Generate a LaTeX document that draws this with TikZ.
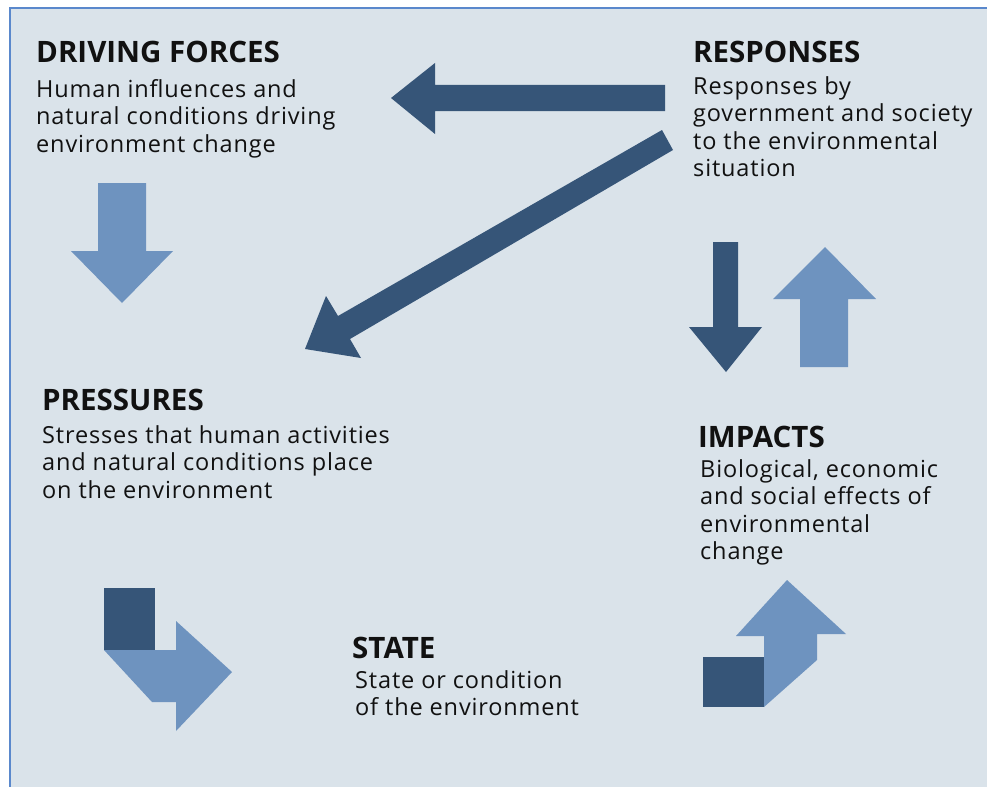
\documentclass[tikz,border=0pt]{standalone}
\usepackage{fontspec}
\setmainfont{Open Sans}
\newfontfamily\bodyfont{Open Sans}[LetterSpace=3.6]
\definecolor{bg}{HTML}{DAE3EA}
\definecolor{frameblue}{HTML}{5A88CC}
\definecolor{darkarrow}{HTML}{365578}
\definecolor{lightarrow}{HTML}{6E93BF}
\definecolor{txt}{HTML}{111111}
\newcommand{\firstline}{\rule{0pt}{20bp}}
\tikzset{
  headtext/.style={anchor=base west, inner sep=0pt, text=txt,
    font=\fontsize{29.5bp}{32bp}\selectfont\bfseries},
  bodytext/.style={anchor=north west, inner sep=0pt, align=left, text=txt,
    font=\bodyfont\fontsize{23.5bp}{27.5bp}\selectfont},
  darkfill/.style={fill=darkarrow},
  lightfill/.style={fill=lightarrow},
}
\begin{document}
\begin{tikzpicture}[x=1bp,y=-1bp]
\useasboundingbox (0,0) rectangle (987,787);
\fill[white] (0,0) rectangle (987,787);
\fill[bg] (10,8) rectangle (987,787);
\draw[frameblue, line width=1.8bp] (10,787) -- (10,8) -- (987,8);

% texts
\node[headtext] (dfh) at (36,63) {DRIVING FORCES};
\node[bodytext] (dfb) at (36,77) {\firstline Human influences and\\natural conditions driving\\environment change};

\node[headtext] (rsh) at (693,63) {RESPONSES};
\node[bodytext] (rsb) at (693,74) {\firstline Responses by\\government and society\\to the environmental\\situation};

\node[headtext] (prh) at (42,410) {PRESSURES};
\node[bodytext] (prb) at (42,423) {\firstline Stresses that human activities\\and natural conditions place\\on the environment};

\node[headtext] (imh) at (698,447) {IMPACTS};
\node[bodytext] (imb) at (700,457) {\firstline Biological, economic\\and social effects of\\environmental\\change};

\node[headtext] (sth) at (352,658) {STATE};
\node[bodytext] (stb) at (355,668) {\firstline State or condition\\of the environment};

% responses -> driving forces
\fill[darkfill] (665,85) -- (435,85) -- (435,63) -- (391,98) -- (435,134) -- (435,111) -- (665,111) -- cycle;
% responses -> pressures
\fill[darkfill] (662,130) -- (673,150) -- (350,339) -- (361,358) -- (305,349) -- (326,296) -- (338,316) -- cycle;
% driving forces -> pressures
\fill[lightfill] (98,183) -- (146,183) -- (146,251) -- (173,251) -- (122,303) -- (71,251) -- (98,251) -- cycle;
% responses -> impacts
\fill[darkfill] (713,242) -- (738,242) -- (738,327) -- (762,327) -- (726,372) -- (689,327) -- (713,327) -- cycle;
% impacts -> responses
\fill[lightfill] (800,367) -- (800,299) -- (773,299) -- (825,247) -- (876,299) -- (848,299) -- (848,367) -- cycle;
% pressures -> state
\fill[darkfill] (104,588) rectangle (155,650);
\fill[lightfill] (104,650) -- (176,650) -- (176,621) -- (232,672) -- (176,731) -- (176,702) -- (152,702) -- cycle;
% state -> impacts
\fill[darkfill] (703,657) rectangle (764,707);
\fill[lightfill] (764,707) -- (764,636) -- (736,636) -- (787,580) -- (846,634) -- (817,634) -- (817,660) -- cycle;
\end{tikzpicture}
\end{document}
